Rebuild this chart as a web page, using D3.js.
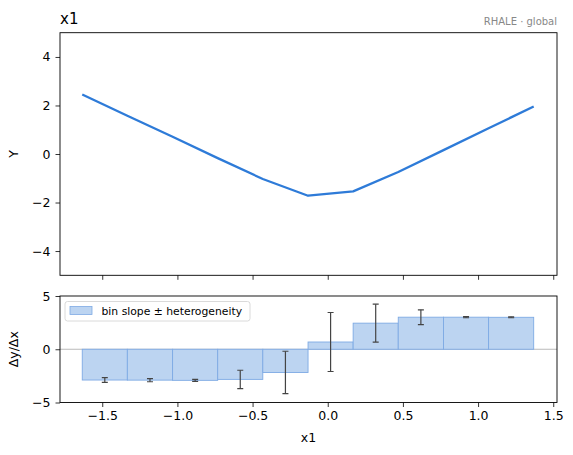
<!DOCTYPE html>
<html><head><meta charset="utf-8">
<script src="https://cdn.jsdelivr.net/npm/d3@7"></script>
<style>body{margin:0;background:#fff}svg{display:block;font-family:"DejaVu Sans",sans-serif}</style>
</head><body><svg id="c" width="573" height="455"></svg>
<script>
// bin edges along x1
const binEdges = [-1.633, -1.333, -1.032, -0.732, -0.432, -0.131, 0.169, 0.469, 0.770, 1.070, 1.370];
// accumulated effect at bin edges (top panel line)
const effect = [2.45, 1.58, 0.71, -0.17, -1.03, -1.72, -1.54, -0.74, 0.16, 1.06, 1.96];
// bin slopes (bottom panel bars) and heterogeneity (error bars)
const binSlope = [-2.89, -2.90, -2.92, -2.83, -2.18, 0.68, 2.45, 3.01, 3.01, 3.00];
const heterogeneity = [0.22, 0.15, 0.10, 0.86, 1.99, 2.77, 1.78, 0.69, 0.05, 0.04];
const xTicks = [-1.5, -1.0, -0.5, 0.0, 0.5, 1.0, 1.5];
const yTicksTop = [-4, -2, 0, 2, 4];
const yTicksBottom = [-5, 0, 5];

const svg = d3.select("#c");
const L = 60, R = 557;
const top1 = 32.7, bot1 = 275.3, top2 = 296, bot2 = 402.5;
const x = d3.scaleLinear().domain([-1.781, 1.525]).range([L, R]);
const y1 = d3.scaleLinear().domain([-5, 5]).range([bot1, top1]);
const y2 = d3.scaleLinear().domain([-5, 5]).range([bot2, top2]);
const fmt = d => d3.format(".1f")(d).replace("-", "\u2212");
const fmtI = d => String(d).replace("-", "\u2212");

function styleAxis(g){
  g.select(".domain").remove();
  g.selectAll(".tick line").attr("stroke","#000").attr("stroke-width",0.8);
  g.selectAll(".tick text").attr("font-size","12.5px").attr("fill","#000").attr("font-family","DejaVu Sans");
}

// top panel
svg.append("g").attr("transform",`translate(0,${bot1})`)
  .call(d3.axisBottom(x).tickValues(xTicks).tickSize(4.5).tickFormat(""))
  .call(styleAxis);
svg.append("g").attr("transform",`translate(${L},0)`)
  .call(d3.axisLeft(y1).tickValues(yTicksTop).tickSize(4.5).tickPadding(5).tickFormat(fmtI))
  .call(styleAxis);
const pts = binEdges.map((e,i)=>[e, effect[i]]);
svg.append("path").datum(pts)
  .attr("d", d3.line().x(d=>x(d[0])).y(d=>y1(d[1])))
  .attr("fill","none").attr("stroke","#2e7bd8").attr("stroke-width",2.3).attr("stroke-linejoin","round");
svg.append("rect").attr("x",L).attr("y",top1).attr("width",R-L).attr("height",bot1-top1)
  .attr("fill","none").attr("stroke","#000").attr("stroke-width",0.9);
svg.append("text").attr("x",L).attr("y",24).attr("font-size","15px").text("x1");
svg.append("text").attr("x",R).attr("y",24.5).attr("text-anchor","end").attr("font-size","10px").attr("fill","#888").text("RHALE \u00b7 global");
svg.append("text").attr("transform",`translate(18,${(top1+bot1)/2}) rotate(-90)`).attr("text-anchor","middle").attr("font-size","12.5px").text("Y");

// bottom panel
const clip = svg.append("clipPath").attr("id","cl").append("rect").attr("x",L).attr("y",top2).attr("width",R-L).attr("height",bot2-top2);
const g2 = svg.append("g").attr("clip-path","url(#cl)");
g2.append("line").attr("x1",L).attr("x2",R).attr("y1",y2(0)).attr("y2",y2(0)).attr("stroke","#bbb").attr("stroke-width",1);
const bins = binSlope.map((s,i)=>({x0:binEdges[i], x1:binEdges[i+1], s, h:heterogeneity[i]}));
g2.selectAll("rect.bar").data(bins).enter().append("rect").attr("class","bar")
  .attr("x",d=>x(d.x0)).attr("width",d=>x(d.x1)-x(d.x0))
  .attr("y",d=>Math.min(y2(0),y2(d.s))).attr("height",d=>Math.abs(y2(d.s)-y2(0)))
  .attr("fill","#bcd4f1").attr("stroke","#7eaae4").attr("stroke-width",0.9);
const eb = g2.selectAll("g.eb").data(bins).enter().append("g").attr("stroke","#444").attr("stroke-width",1.2);
eb.append("line").attr("x1",d=>x((d.x0+d.x1)/2)).attr("x2",d=>x((d.x0+d.x1)/2))
  .attr("y1",d=>y2(d.s-d.h)).attr("y2",d=>y2(d.s+d.h));
eb.append("line").attr("x1",d=>x((d.x0+d.x1)/2)-3).attr("x2",d=>x((d.x0+d.x1)/2)+3)
  .attr("y1",d=>y2(d.s-d.h)).attr("y2",d=>y2(d.s-d.h));
eb.append("line").attr("x1",d=>x((d.x0+d.x1)/2)-3).attr("x2",d=>x((d.x0+d.x1)/2)+3)
  .attr("y1",d=>y2(d.s+d.h)).attr("y2",d=>y2(d.s+d.h));

svg.append("g").attr("transform",`translate(0,${bot2})`)
  .call(d3.axisBottom(x).tickValues(xTicks).tickSize(4.5).tickPadding(4).tickFormat(fmt))
  .call(styleAxis);
svg.append("g").attr("transform",`translate(${L},0)`)
  .call(d3.axisLeft(y2).tickValues(yTicksBottom).tickSize(4.5).tickPadding(5).tickFormat(fmtI))
  .call(styleAxis);
svg.append("rect").attr("x",L).attr("y",top2).attr("width",R-L).attr("height",bot2-top2)
  .attr("fill","none").attr("stroke","#000").attr("stroke-width",0.9);
svg.append("text").attr("transform",`translate(18,${(top2+bot2)/2}) rotate(-90)`).attr("text-anchor","middle").attr("font-size","12.5px").text("\u0394y/\u0394x");
svg.append("text").attr("x",(L+R)/2).attr("y",442).attr("text-anchor","middle").attr("font-size","12.5px").text("x1");

// legend
const lg = svg.append("g");
lg.append("rect").attr("x",65).attr("y",301.5).attr("width",185).attr("height",19.5).attr("rx",2.5)
  .attr("fill","#fff").attr("fill-opacity",0.8).attr("stroke","#d6d6d6").attr("stroke-width",0.9);
lg.append("rect").attr("x",70).attr("y",306.5).attr("width",22).attr("height",8)
  .attr("fill","#bcd4f1").attr("stroke","#7eaae4").attr("stroke-width",0.8);
lg.append("text").attr("x",101.5).attr("y",315).attr("font-size","10.8px").text("bin slope \u00b1 heterogeneity");
</script></body></html>
